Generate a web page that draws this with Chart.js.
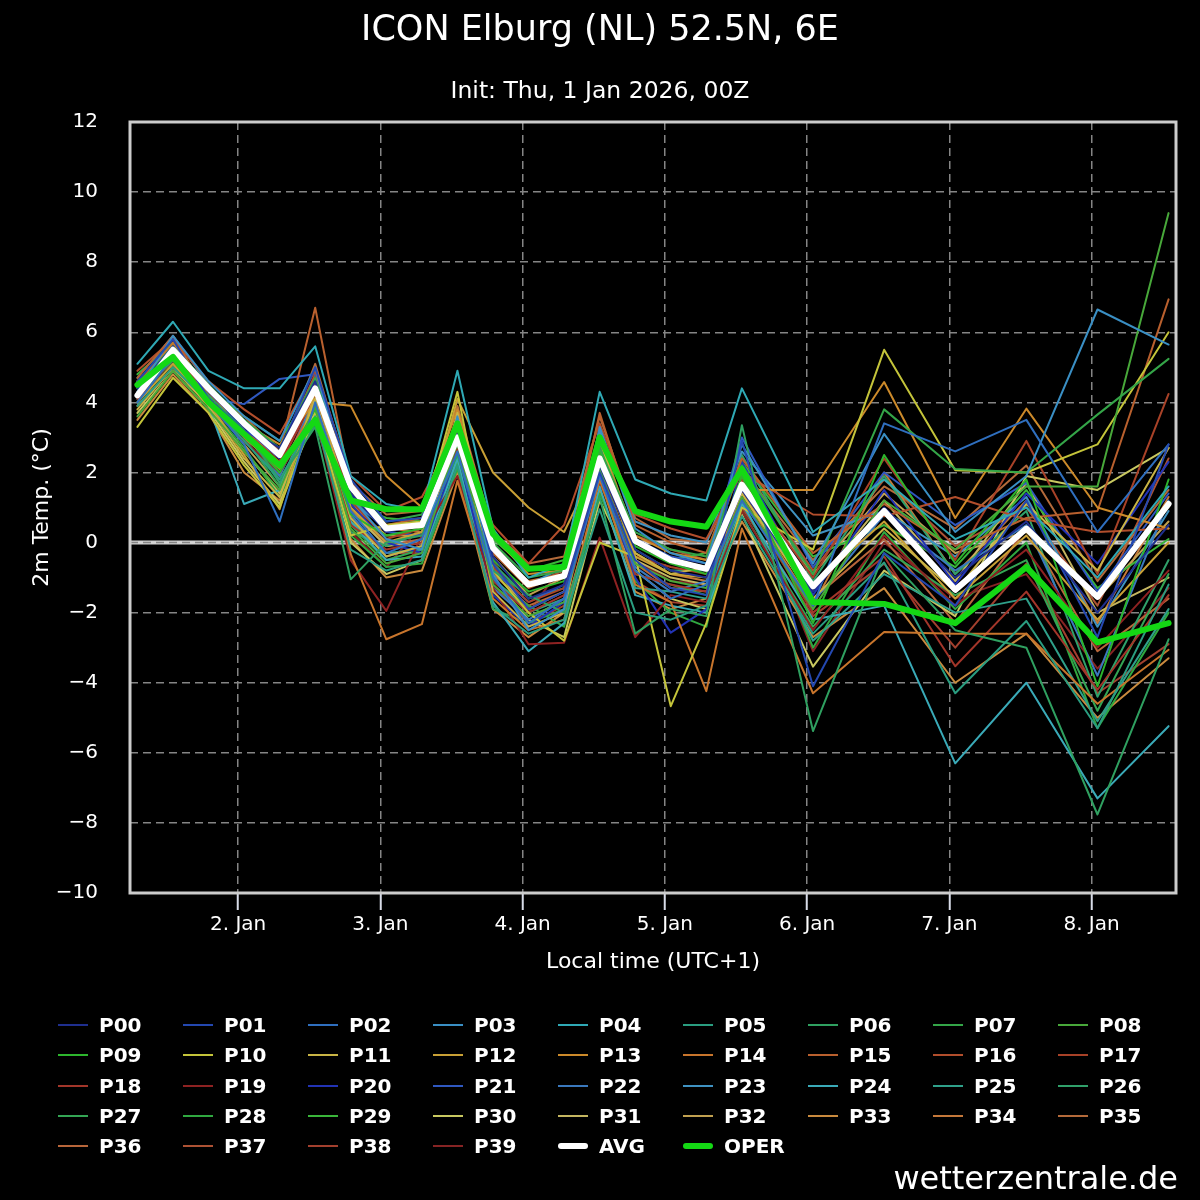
<!DOCTYPE html>
<html>
<head>
<meta charset="utf-8">
<title>ICON Elburg (NL) 52.5N, 6E</title>
<script src="https://cdn.jsdelivr.net/npm/chart.js@4.4.1/dist/chart.umd.min.js"></script>
<style>
  body { margin: 0; background: #000; }
  #wrap { position: relative; width: 1200px; height: 1200px; background: #000; color: #fff; font-family: "DejaVu Sans", sans-serif; }
  #chart { position: absolute; left: 0; top: 0; }
  .item { position: absolute; height: 30px; display: flex; align-items: center; font-weight: bold; font-size: 20px; white-space: nowrap; }
  .sw { width: 30px; margin-right: 11px; }
  #credit { position: absolute; right: 22px; top: 1159px; font-size: 32px; line-height: 38px; }
</style>
</head>
<body>
<div id="wrap">
  <canvas id="chart" width="1200" height="1200"></canvas>
  <div id="legend"></div>
  <div id="credit">wetterzentrale.de</div>
</div>
<script>
// forecast steps, hours counted from 1 Jan 00:00 local time (UTC+1)
var hours = [7, 13, 19, 25, 31, 37, 43, 49, 55, 61, 67, 73, 79, 85, 91, 97, 103, 109, 121, 133, 145, 157, 169, 181];
var dayTicks = [24, 48, 72, 96, 120, 144, 168];
var dayLabels = ['2. Jan', '3. Jan', '4. Jan', '5. Jan', '6. Jan', '7. Jan', '8. Jan'];
var yTicks = [-10, -8, -6, -4, -2, 0, 2, 4, 6, 8, 10, 12];

// ensemble mean and operational run
var avg  = [4.2, 5.5, 4.4, 3.4, 2.5, 4.4, 1.6, 0.4, 0.5, 3.0, -0.15, -1.2, -0.95, 2.4, 0.05, -0.5, -0.75, 1.65, -1.25, 0.9, -1.35, 0.4, -1.55, 1.1];
var oper = [4.5, 5.3, 4.0, 3.1, 2.2, 3.5, 1.2, 0.95, 0.95, 3.4, 0.25, -0.75, -0.7, 3.0, 0.9, 0.6, 0.45, 2.1, -1.7, -1.75, -2.3, -0.7, -2.85, -2.3];

// ensemble members
var p00 = [4.4, 5.6, 4.3, 3.3, 2.7, 4.6, 1.4, 0.3, 0.5, 3.1, -0.4, -1.6, -1.2, 2.2, -0.2, -0.8, -1.0, 1.5, -1.4, 1.0, -1.0, 0.6, -2.0, 0.5];
var p01 = [4.6, 5.8, 4.1, 3.2, 2.6, 5.0, 1.8, 0.6, 0.7, 3.3, -0.6, -1.9, -1.4, 2.0, -0.5, -1.3, -1.5, 2.9, -4.1, -0.3, -1.8, 1.2, -2.7, 2.8];
var p02 = [4.0, 5.3, 4.0, 2.8, 0.6, 4.0, 0.9, -0.3, 0.1, 2.6, -1.0, -2.3, -1.6, 1.9, -0.8, -1.6, -1.2, 1.2, -1.8, 3.4, 2.6, 3.5, 0.3, 2.8];
var p03 = [4.3, 5.9, 4.6, 3.6, 2.9, 5.0, 1.3, 0.1, -0.2, 3.6, -0.9, -2.5, -1.9, 3.3, 0.4, -0.3, -0.6, 2.8, -0.6, 3.1, 0.3, 1.9, 6.65, 5.65];
var p04 = [5.1, 6.3, 4.9, 4.4, 4.4, 5.6, 1.9, 1.1, 0.9, 4.9, 0.4, -1.0, -0.6, 4.3, 1.8, 1.4, 1.2, 4.4, 0.3, 1.8, 0.1, 1.0, -1.0, 1.6];
var p05 = [3.9, 5.0, 4.0, 2.9, 1.8, 3.6, -0.2, -0.8, -0.5, 2.2, -1.8, -2.6, -2.2, 0.95, -2.0, -2.2, -1.8, 0.75, -2.6, -0.57, -4.3, -2.24, -5.3, -1.2];
var p06 = [4.2, 5.2, 4.2, 3.2, 1.8, 3.3, -1.05, 0.0, 0.2, 2.5, -0.8, -1.5, -2.0, 1.3, -2.6, -1.9, -2.1, 3.35, -5.38, -0.3, -2.5, -3.0, -7.76, -2.76];
var p07 = [4.5, 5.6, 4.5, 3.5, 2.7, 4.7, 1.5, 0.6, 0.8, 3.4, 0.0, -1.0, -0.8, 2.7, 0.3, -0.2, -0.4, 2.2, -0.9, 3.8, 2.1, 2.0, 3.65, 5.24];
var p08 = [3.6, 4.9, 3.8, 2.6, 1.5, 3.9, 0.4, -0.6, -0.3, 2.9, -1.2, -2.1, -1.7, 2.1, -0.6, -1.1, -1.3, 1.3, -1.9, 1.2, -0.2, 1.6, 1.6, 9.4];
var p09 = [4.4, 5.4, 4.1, 3.1, 2.0, 3.8, 0.8, 0.2, 0.4, 2.8, -0.5, -1.4, -1.1, 2.6, -0.1, -0.6, -0.9, 1.9, -2.3, 2.5, -0.6, 1.8, -4.1, 1.8];
var p10 = [3.3, 4.7, 3.7, 2.2, 1.0, 3.7, 0.2, 0.5, 0.6, 4.3, -0.8, -2.0, -2.8, 0.0, -0.4, -4.67, -2.3, 1.0, -0.2, 5.5, 2.06, 2.0, 2.8, 6.0];
var p11 = [3.8, 5.0, 3.9, 2.4, 1.3, 4.1, 0.7, -0.4, -0.1, 3.7, -1.4, -2.4, -2.0, 3.0, -0.3, -0.9, -0.7, 1.4, -1.6, 0.4, -1.4, 1.1, -0.8, 2.7];
var p12 = [4.0, 5.1, 4.0, 2.5, 0.95, 4.3, 1.0, 0.0, 0.3, 4.1, 2.0, 1.0, 0.3, 2.4, -0.4, -0.9, -1.0, 1.6, -1.2, 0.6, -1.6, 0.2, -2.2, 0.0];
var p13 = [4.2, 5.5, 4.5, 3.4, 2.8, 4.0, 3.9, 1.9, 1.0, 3.8, 0.2, -0.9, -0.8, 2.9, 0.2, -0.3, -0.5, 1.5, 1.5, 4.58, 0.7, 3.82, 1.0, 0.4];
var p14 = [4.5, 5.7, 4.4, 3.0, 2.1, 3.9, -0.33, -2.76, -2.33, 1.76, -1.6, -2.5, -2.2, 1.8, -1.2, -1.7, -4.24, 0.4, -4.3, -2.55, -2.6, -2.6, -4.6, -3.06];
var p15 = [4.7, 5.9, 4.2, 3.6, 2.6, 6.7, 1.6, 0.5, 0.7, 3.6, -0.3, -1.3, -0.9, 3.7, 0.5, 0.0, -0.3, 2.4, -0.3, 1.1, -0.2, 0.7, 0.9, 6.94];
var p16 = [4.9, 5.8, 4.6, 3.8, 3.1, 4.9, 1.9, 0.9, 1.3, 3.2, 0.5, -0.6, 0.5, 3.4, 0.8, 0.4, 0.1, 2.0, 0.8, 0.75, 1.3, 0.65, 0.3, 0.4];
var p17 = [4.6, 5.6, 4.0, 3.2, 2.3, 4.5, 1.2, 0.1, 0.4, 2.9, -0.7, -1.7, -1.3, 2.5, -0.4, -0.7, -0.9, 1.8, -1.0, 2.4, -0.5, 2.9, -0.9, 4.24];
var p18 = [4.3, 5.4, 4.3, 3.0, 2.2, 4.2, 0.5, -0.2, 0.0, 2.7, -1.1, -2.0, -1.5, 2.3, -0.9, -1.2, -1.4, 1.3, -2.0, -0.4, -3.53, -1.4, -4.2, -1.5];
var p19 = [4.1, 5.2, 3.9, 2.9, 2.0, 3.6, -0.5, -1.95, 0.2, 1.9, -1.3, -2.9, -2.86, 0.14, -2.7, -1.5, -1.7, 0.9, -2.5, 0.2, -1.8, -0.2, -3.0, -0.8];
var p20 = [4.4, 5.6, 4.2, 3.3, 2.4, 4.4, 1.1, 0.0, -0.3, 2.6, -1.5, -2.4, -1.7, 2.1, -1.0, -2.57, -1.9, 2.3, -1.5, 1.5, -1.2, 1.4, -0.6, 2.3];
var p21 = [4.2, 5.3, 4.1, 3.95, 4.67, 4.8, 1.4, 0.3, 0.2, 3.0, -0.8, -1.7, -1.2, 2.6, 0.1, -0.4, -0.6, 3.0, -0.7, 2.0, 0.5, 1.7, -1.4, 1.4];
var p22 = [4.5, 5.5, 4.3, 3.1, 1.9, 4.1, 0.8, -0.4, -0.1, 2.8, -1.3, -2.2, -1.6, 2.2, -0.7, -1.4, -1.1, 1.7, -1.7, 0.8, -0.8, 0.5, -3.8, 1.2];
var p23 = [4.7, 5.9, 4.5, 3.4, 2.5, 4.6, 1.2, 0.4, 0.5, 3.5, -0.2, -1.2, -0.7, 3.2, 0.6, 0.2, 0.0, 2.6, 0.2, 0.9, -0.4, 1.3, -2.4, 0.9];
var p24 = [4.0, 5.4, 3.9, 1.1, 1.5, 4.3, 0.6, -0.5, -0.4, 2.4, -1.7, -3.1, -2.3, 1.6, -1.5, -1.8, -2.0, 1.1, -2.2, -1.8, -6.3, -4.0, -7.3, -5.24];
var p25 = [4.1, 5.2, 4.0, 3.0, 2.1, 3.9, 0.6, -0.3, -0.2, 2.5, -1.0, -2.0, -1.6, 2.0, -1.3, -1.4, -1.6, 1.2, -2.8, -0.9, -2.0, -1.6, -5.1, -1.9];
var p26 = [4.6, 5.5, 4.3, 3.2, 1.7, 3.4, 0.3, -0.1, 0.3, 2.9, -0.6, -1.6, -1.3, 2.8, -0.2, -0.8, -0.8, 2.5, -1.1, 1.9, -0.9, 0.9, -4.4, -0.5];
var p27 = [4.3, 5.3, 4.1, 3.0, 1.6, 3.6, 0.5, -0.5, -0.2, 2.3, -1.9, -2.3, -1.9, 3.3, -0.9, -1.2, -1.5, 0.9, -2.4, -0.2, -1.5, -0.5, -4.8, -0.9];
var p28 = [4.0, 5.1, 3.9, 2.7, 1.3, 3.5, 0.2, -0.7, -0.6, 2.1, -1.1, -1.8, -2.4, 1.4, -1.1, -2.0, -2.4, 2.0, -3.0, 0.3, -1.9, 0.0, -5.3, -2.0];
var p29 = [4.8, 5.7, 4.4, 3.6, 2.9, 4.5, 1.1, 0.7, 0.6, 3.2, 0.1, -0.8, -0.5, 3.1, 0.0, -0.5, -0.3, 2.3, -0.4, 0.5, -0.7, 1.5, -1.3, 0.1];
var p30 = [3.7, 4.9, 3.8, 2.3, 1.1, 3.8, 0.0, -0.9, -0.5, 2.8, -1.0, -2.2, -2.7, 1.2, -0.8, -1.6, -1.9, 0.8, -3.54, -0.8, -2.1, 1.9, 1.5, 2.7];
var p31 = [3.9, 5.0, 3.9, 2.6, 1.4, 3.9, 0.9, -0.1, 0.0, 3.1, -0.7, -1.9, -1.4, 2.7, -0.5, -1.0, -1.2, 1.9, -1.3, 1.2, -1.1, 1.7, -2.0, -1.0];
var p32 = [4.1, 5.2, 4.1, 2.8, 1.6, 4.0, 1.1, 0.2, 0.2, 3.3, -0.4, -1.5, -1.0, 2.9, 0.0, -0.5, -0.7, 1.7, -0.9, 1.4, -0.3, 0.3, -1.6, 0.6];
var p33 = [3.5, 4.8, 3.7, 2.0, 1.2, 3.7, 0.1, -1.0, -0.8, 2.0, -1.9, -2.7, -2.0, 1.5, -1.4, -1.9, -1.6, 0.6, -2.7, -1.3, -4.0, -2.6, -5.0, -3.3];
var p34 = [4.2, 5.4, 4.2, 3.2, 2.4, 4.4, 1.3, 0.4, 0.3, 3.3, -0.3, -1.1, -0.9, 2.5, -0.3, -0.9, -1.1, 1.4, -1.8, 2.0, -0.9, 1.2, -2.3, 1.3];
var p35 = [4.5, 5.7, 4.2, 3.5, 2.5, 5.1, 1.7, 0.8, 0.9, 3.9, 0.3, -0.6, -0.4, 3.6, 0.7, 0.1, 0.0, 2.1, -0.5, 1.6, 0.4, 2.2, -1.1, 1.5];
var p36 = [4.4, 5.5, 4.1, 3.1, 2.3, 4.6, 1.0, -0.1, 0.1, 2.9, -0.9, -1.8, -1.4, 2.2, -0.6, -1.3, -1.4, 1.5, -1.6, 0.1, -2.3, 0.4, -3.1, -1.6];
var p37 = [4.6, 5.6, 4.4, 3.3, 2.6, 4.8, 1.4, 0.5, 0.6, 3.4, -0.1, -1.2, -0.8, 2.8, 0.2, -0.2, -0.5, 2.2, -0.8, 1.8, -0.1, 1.0, -1.8, 2.4];
var p38 = [4.3, 5.3, 4.0, 2.9, 1.9, 4.2, 0.7, -0.3, -0.3, 2.7, -1.2, -2.3, -1.8, 2.0, -1.1, -1.7, -1.8, 1.0, -2.1, -0.6, -3.0, -0.6, -4.3, -2.9];
var p39 = [4.5, 5.8, 4.3, 3.4, 2.2, 4.3, 0.3, -0.7, 0.5, 2.6, -0.5, -2.0, -0.6, 1.7, -0.5, -1.1, -1.2, 1.9, -3.1, 0.0, -1.6, -0.9, -3.6, -1.3];

var members = [p00, p01, p02, p03, p04, p05, p06, p07, p08, p09,
               p10, p11, p12, p13, p14, p15, p16, p17, p18, p19,
               p20, p21, p22, p23, p24, p25, p26, p27, p28, p29,
               p30, p31, p32, p33, p34, p35, p36, p37, p38, p39];

var memberColors = [
  '#1f2f8f', '#2448b0', '#2f6fbf', '#3a8fc4', '#2fa9b5', '#2a9d80', '#2fa060', '#34a548', '#48a83a', '#2db52d',
  '#c4c43a', '#c9b445', '#c9a035', '#cc8a2a', '#c8752c', '#b9602e', '#b24e2c', '#a84228', '#a3362a', '#8e2222',
  '#2233b5', '#2f58c0', '#3a78bd', '#3f92c2', '#3aaab8', '#2fa08a', '#30a06a', '#34a554', '#30a840', '#3ab53a',
  '#c8c860', '#c4b560', '#c0a050', '#c98a3e', '#c4783a', '#b46a3a', '#b8663a', '#ad5234', '#a3402e', '#862424'
];
var operColor = '#14d814';

Chart.defaults.font.family = '"DejaVu Sans", sans-serif';
Chart.defaults.color = '#fff';

function points(vals) {
    return vals.map(function(v, i) { return { x: hours[i], y: v }; });
}

var datasets = [];
members.forEach(function(vals, i) {
    datasets.push({
        label: 'P' + (i < 10 ? '0' : '') + i,
        data: points(vals),
        borderColor: memberColors[i],
        borderWidth: 2,
        order: 2
    });
});
datasets.push({ label: 'AVG', data: points(avg), borderColor: '#ffffff', borderWidth: 6, order: 1 });
datasets.push({ label: 'OPER', data: points(oper), borderColor: operColor, borderWidth: 6, order: 0 });

// zero line under the data, frame around the plot on top
var framePlugin = {
    id: 'frame',
    beforeDatasetsDraw: function(chart) {
        var a = chart.chartArea, ctx = chart.ctx;
        var y0 = chart.scales.y.getPixelForValue(0);
        ctx.save();
        ctx.strokeStyle = '#d2d2d2';
        ctx.lineWidth = 4;
        ctx.beginPath(); ctx.moveTo(a.left, y0); ctx.lineTo(a.right, y0); ctx.stroke();
        ctx.strokeStyle = '#858585';
        ctx.lineWidth = 1.5;
        ctx.setLineDash([8, 5]);
        ctx.beginPath(); ctx.moveTo(a.left, y0); ctx.lineTo(a.right, y0); ctx.stroke();
        ctx.restore();
    },
    afterDatasetsDraw: function(chart) {
        var a = chart.chartArea, ctx = chart.ctx;
        ctx.save();
        ctx.strokeStyle = '#cccccc';
        ctx.lineWidth = 3;
        ctx.strokeRect(a.left, a.top, a.right - a.left, a.bottom - a.top);
        ctx.restore();
    }
};

var ctx = document.getElementById('chart').getContext('2d');
var chart = new Chart(ctx, {
    type: 'line',
    data: { datasets: datasets },
    options: {
        responsive: false,
        animation: false,
        parsing: false,
        normalized: true,
        layout: { padding: { top: 0, left: 0, right: 0, bottom: 207 } },
        elements: {
            point: { radius: 0, hoverRadius: 0 },
            line: { tension: 0, fill: false, borderJoinStyle: 'round', borderCapStyle: 'round' }
        },
        scales: {
            x: {
                type: 'linear',
                min: 5.75,
                max: 182.25,
                afterBuildTicks: function(axis) { axis.ticks = dayTicks.map(function(v) { return { value: v }; }); },
                afterFit: function(axis) { axis.height = 100; },
                ticks: {
                    color: '#fff',
                    font: { size: 20 },
                    padding: 3,
                    maxRotation: 0,
                    autoSkip: false,
                    callback: function(v, i) { return dayLabels[i]; }
                },
                grid: { color: '#858585', lineWidth: 1.5, drawTicks: true, tickLength: 17, tickColor: '#d8dce8', tickWidth: 2 },
                border: { display: false, dash: [8, 5] },
                title: { display: true, text: 'Local time (UTC+1)', color: '#fff', font: { size: 22 }, padding: { top: 0, bottom: 18 } }
            },
            y: {
                min: -10,
                max: 12,
                afterBuildTicks: function(axis) { axis.ticks = yTicks.map(function(v) { return { value: v }; }); },
                afterFit: function(axis) { axis.width = 130; },
                ticks: {
                    color: '#fff',
                    font: { size: 20 },
                    padding: 32,
                    callback: function(v) { return String(v).replace('-', '\u2212'); }
                },
                grid: { color: '#858585', lineWidth: 1.5, drawTicks: false },
                border: { display: false, dash: [8, 5] },
                title: { display: true, text: '2m Temp. (°C)', color: '#fff', font: { size: 22 }, padding: { top: 29, bottom: 0 } }
            },
            // empty right margin so the titles stay centred on the page
            yRight: {
                position: 'right',
                min: -10,
                max: 12,
                afterFit: function(axis) { axis.width = 24; },
                ticks: { display: false },
                grid: { display: false, drawTicks: false },
                border: { display: false }
            }
        },
        plugins: {
            legend: { display: false },
            tooltip: { enabled: false },
            title: {
                display: true,
                text: 'ICON Elburg (NL) 52.5N, 6E',
                color: '#fff',
                font: { size: 35, weight: 'normal' },
                padding: { top: 10, bottom: 0 }
            },
            subtitle: {
                display: true,
                text: 'Init: Thu, 1 Jan 2026, 00Z',
                color: '#fff',
                font: { size: 23.5, weight: 'normal' },
                padding: { top: 26, bottom: 15.8 }
            }
        }
    },
    plugins: [framePlugin]
});

// legend grid: 9 columns below the plot
var legend = document.getElementById('legend');
datasets.forEach(function(ds, i) {
    var col = i % 9, row = Math.floor(i / 9);
    var item = document.createElement('div');
    item.className = 'item';
    item.style.left = (58 + 125 * col) + 'px';
    item.style.top = (1010 + 30.3 * row) + 'px';
    var sw = document.createElement('span');
    sw.className = 'sw';
    var thick = ds.borderWidth > 2;
    sw.style.height = thick ? '6px' : '2px';
    sw.style.borderRadius = thick ? '3px' : '0';
    sw.style.background = ds.borderColor;
    var txt = document.createElement('span');
    txt.textContent = ds.label;
    item.appendChild(sw);
    item.appendChild(txt);
    legend.appendChild(item);
});
</script>
</body>
</html>
